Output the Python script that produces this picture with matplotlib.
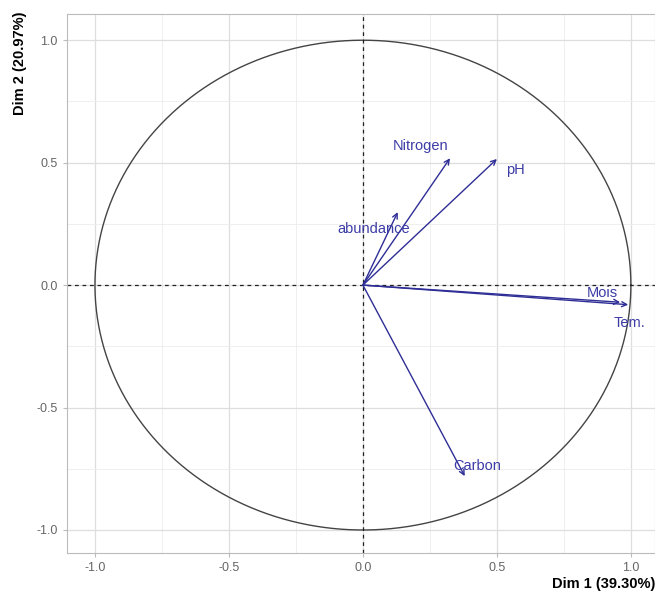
import numpy as np
import matplotlib.pyplot as plt

plt.rcParams['font.family'] = ['Liberation Sans', 'DejaVu Sans']

# PCA variable loadings (Dim 1, Dim 2)
variables = ['Nitrogen', 'pH', 'abundance', 'Mois', 'Tem.', 'Carbon']
dim1 = [0.325, 0.50, 0.13, 0.96, 0.99, 0.38]
dim2 = [0.518, 0.515, 0.298, -0.07, -0.08, -0.78]
dim1_pct = 39.30
dim2_pct = 20.97

# label offsets (points) to mimic repelled labels
label_offsets = {
    'Nitrogen': (-21, 9),
    'pH': (13, -8),
    'abundance': (-17, -12),
    'Mois': (-13, 7),
    'Tem.': (1, -13),
    'Carbon': (9, 7),
}

arrow_col = '#2E2E96'
text_col = '#3C3CA6'

fig = plt.figure(figsize=(6.55, 5.94), dpi=100)
ax = fig.add_axes([0.102, 0.069, 0.898, 0.907])

ax.set_xlim(-1.105, 1.09)
ax.set_ylim(-1.094, 1.106)

# grid
ax.set_xticks([-1, -0.5, 0, 0.5, 1])
ax.set_yticks([-1, -0.5, 0, 0.5, 1])
ax.set_xticks([-0.75, -0.25, 0.25, 0.75], minor=True)
ax.set_yticks([-0.75, -0.25, 0.25, 0.75], minor=True)
ax.grid(which='major', color='#DEDEDE', linewidth=0.9)
ax.grid(which='minor', color='#EDEDED', linewidth=0.6)
ax.set_axisbelow(True)
ax.tick_params(which='minor', length=0)
ax.tick_params(which='major', length=3, color='#BBBBBB', labelsize=9, labelcolor='#666666')
ax.set_xticklabels(['-1.0', '-0.5', '0.0', '0.5', '1.0'])
ax.set_yticklabels(['-1.0', '-0.5', '0.0', '0.5', '1.0'])
for s in ax.spines.values():
    s.set_color('#BBBBBB')
    s.set_linewidth(0.8)

# correlation circle
t = np.linspace(0, 2 * np.pi, 400)
ax.plot(np.cos(t), np.sin(t), color='#444444', linewidth=1.0)
ax.axhline(0, color='#222222', linestyle=(0, (3, 3)), linewidth=0.9)
ax.axvline(0, color='#222222', linestyle=(0, (3, 3)), linewidth=0.9)

for name, x, y in zip(variables, dim1, dim2):
    ax.annotate('', xy=(x, y), xytext=(0, 0),
                arrowprops=dict(arrowstyle='->', color=arrow_col, lw=1.0,
                                mutation_scale=9, shrinkA=0, shrinkB=0))
    dx, dy = label_offsets[name]
    ax.annotate(name, xy=(x, y), xytext=(dx, dy), textcoords='offset points',
                ha='center', va='center', color=text_col, fontsize=10.5)

ax.set_xlabel(f'Dim 1 ({dim1_pct:.2f}%)', fontsize=10.5, fontweight='bold',
              loc='right', labelpad=2)
ax.set_ylabel(f'Dim 2 ({dim2_pct:.2f}%)', fontsize=10.5, fontweight='bold',
              loc='top', labelpad=4)
ax.xaxis.set_label_coords(1.0, -0.045)
ax.yaxis.set_label_coords(-0.068, 1.005)

fig.savefig('out.png', dpi=100)
